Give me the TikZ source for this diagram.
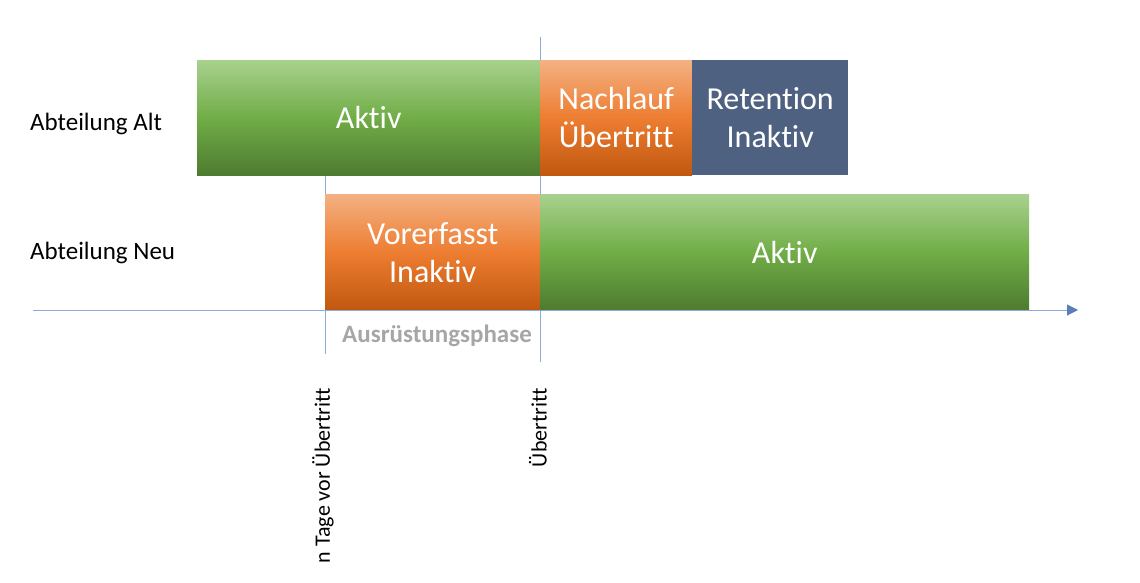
\documentclass[tikz,border=0pt]{standalone}
\usepackage{fontspec}
\setmainfont{Carlito}[Ligatures=NoCommon]
\usetikzlibrary{arrows.meta}
\definecolor{gtop}{HTML}{A9D18E}
\definecolor{gmid}{HTML}{70AD47}
\definecolor{gbot}{HTML}{4E7B30}
\definecolor{otop}{HTML}{F4B183}
\definecolor{omid}{HTML}{ED7D31}
\definecolor{obot}{HTML}{C0580F}
\definecolor{slate}{HTML}{4F6180}
\definecolor{axisblue}{HTML}{8EA9DB}
\definecolor{arrowblue}{HTML}{5B7DB8}
\definecolor{phasegray}{HTML}{A6A6A6}
\tikzset{
  bar/.style={rectangle, anchor=north west, inner sep=0pt, text=white, align=center,
    font=\fontsize{32}{38}\selectfont},
  greenbar/.style={bar, top color=gtop, bottom color=gbot, middle color=gmid},
  orangebar/.style={bar, top color=otop, bottom color=obot, middle color=omid},
  slatebar/.style={bar, fill=slate},
  rowlabel/.style={anchor=west, inner sep=0pt, font=\fontsize{25}{29}\selectfont},
  vlabel/.style={anchor=east, rotate=90, inner sep=0pt, font=\fontsize{22}{26}\selectfont},
  guide/.style={draw=axisblue, line width=1pt},
}
\begin{document}
\begin{tikzpicture}[x=1pt,y=-1pt]
\useasboundingbox (0,0) rectangle (1140,582);
% guide lines
\coordinate (u1) at (540,37);
\coordinate (u2) at (540,362);
\coordinate (n1) at (325,175);
\coordinate (n2) at (325,354);
\draw[guide] (u1) -- (u2);
\draw[guide] (n1) -- (n2);
% bars
\node[greenbar, minimum width=343pt, minimum height=115pt] (altaktiv) at (197,60) {Aktiv};
\node[orangebar, minimum width=152pt, minimum height=115pt] (nachlauf) at (540,60) {Nachlauf\\Übertritt};
\node[slatebar, minimum width=156pt, minimum height=115pt] (retention) at (692,60) {Retention\\Inaktiv};
\node[orangebar, minimum width=215pt, minimum height=116pt] (vorerfasst) at (325,194) {Vorerfasst\\Inaktiv};
\node[greenbar, minimum width=489pt, minimum height=116pt] (neuaktiv) at (540,194) {Aktiv};
% axis
\coordinate (a1) at (33,310);
\coordinate (a2) at (1078,310);
\draw[draw=axisblue, line width=1pt, -{Triangle[length=11pt,width=11pt,color=arrowblue]}] (a1) -- (a2);
% labels
\node[rowlabel] (lalt) at (30,124) {Abteilung Alt};
\node[rowlabel] (lneu) at (30,253) {Abteilung Neu};
\node[font=\bfseries\fontsize{25}{29}\selectfont, text=phasegray, inner sep=0pt] (phase) at (437,336) {Ausrüstungsphase};
\node[vlabel] (lnt) at (323,388) {n Tage vor Übertritt};
\node[vlabel] (lue) at (538,388) {Übertritt};
\end{tikzpicture}
\end{document}
